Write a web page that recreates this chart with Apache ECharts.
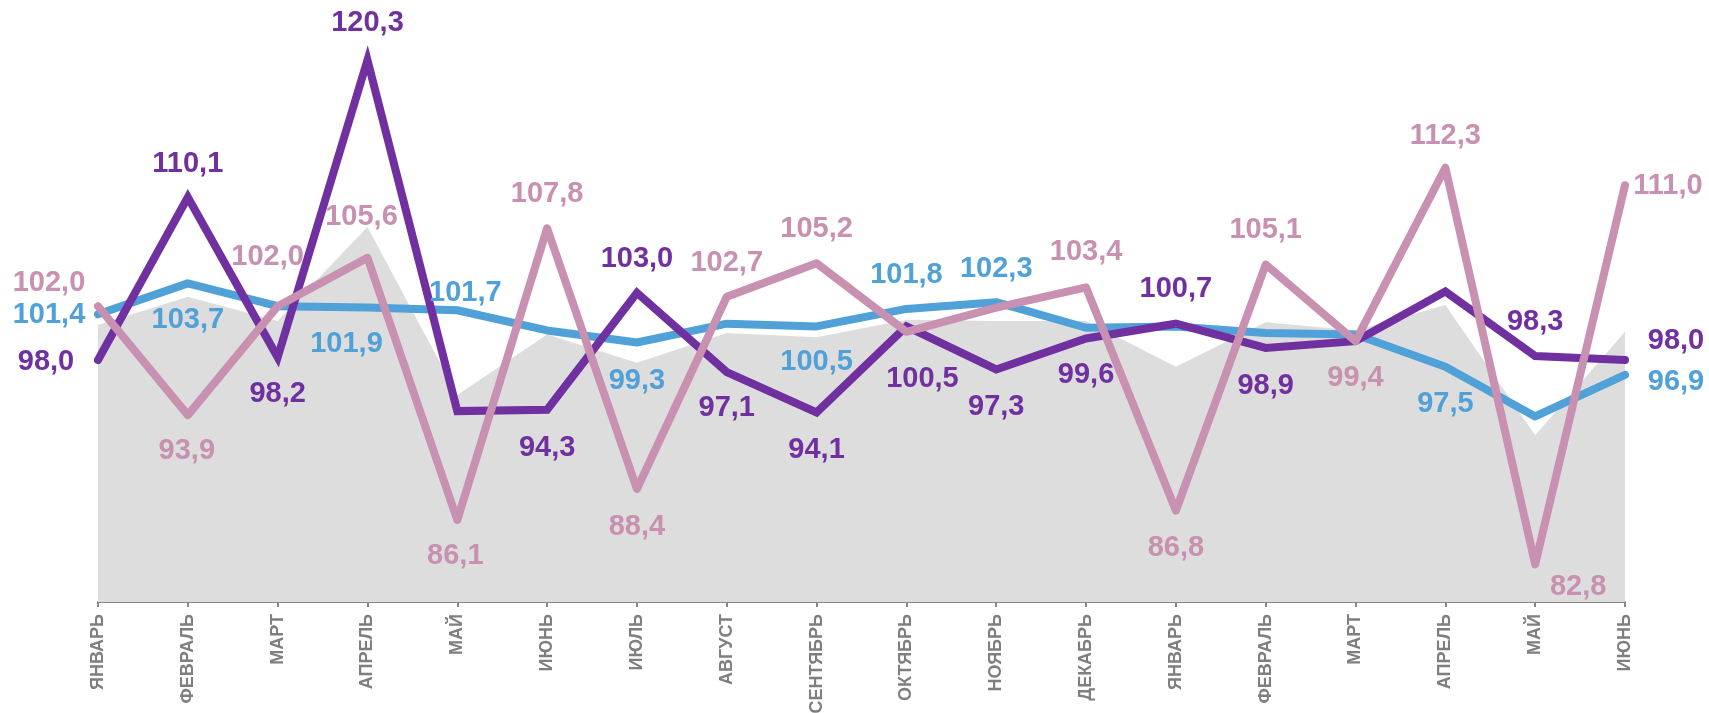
<!DOCTYPE html>
<html>
<head>
<meta charset="utf-8">
<script src="https://cdn.jsdelivr.net/npm/echarts@6/dist/echarts.min.js"></script>
<style>
  html, body { margin: 0; padding: 0; background: #fff; }
  #chart { width: 1709px; height: 713px; }
</style>
</head>
<body>
<div id="chart"></div>
<script>
var months = ['ЯНВАРЬ', 'ФЕВРАЛЬ', 'МАРТ', 'АПРЕЛЬ', 'МАЙ', 'ИЮНЬ', 'ИЮЛЬ', 'АВГУСТ', 'СЕНТЯБРЬ',
  'ОКТЯБРЬ', 'НОЯБРЬ', 'ДЕКАБРЬ', 'ЯНВАРЬ', 'ФЕВРАЛЬ', 'МАРТ', 'АПРЕЛЬ', 'МАЙ', 'ИЮНЬ'];

var purpleValues = [98.0, 110.1, 98.2, 120.3, 94.2, 94.3, 103.0, 97.1, 94.1, 100.5, 97.3, 99.6, 100.7, 98.9, 99.4, 103.1, 98.3, 98.0];
var pinkValues = [102.0, 93.9, 102.0, 105.6, 86.1, 107.8, 88.4, 102.7, 105.2, 100.1, 101.9, 103.4, 86.8, 105.1, 99.4, 112.3, 82.8, 111.0];
var blueValues = [101.4, 103.7, 102.0, 101.9, 101.7, 100.2, 99.3, 100.7, 100.5, 101.8, 102.3, 100.4, 100.5, 100.0, 99.9, 97.5, 93.8, 96.9];
var grayValues = [100.6, 102.7, 100.9, 107.9, 95.4, 99.9, 97.8, 100.0, 99.7, 101.0, 100.9, 100.9, 97.5, 100.8, 100.2, 102.1, 92.4, 100.1];

// label placement (offset from point), null = no label
var purpleLabels = [[-52, 2], [0, -33], [0, 37], [0, -37], null, [0, 38], [0, -34], [0, 36], [0, 38], [16, 53],
  [0, 38], [0, 37], [0, -35], [0, 38], null, null, [0, -34], [51, -19]];
var pinkLabels = [[-49, -23], [-1, 36], [-10, -49], [-6, -41], [-2, 36], [0, -34], [0, 38], [0, -34], [0, -34], null,
  null, [0, -35], [0, 37], [0, -35], [0, 37], [0, -32], [43, 23], [43, 1]];
var blueLabels = [[-49, 1], [0, 37], null, [-21, 36], [8, -17], null, [0, 38], null, [0, 36], [0, -34],
  [0, -33], null, null, null, null, [0, 37], null, [51, 7]];

function withLabels(values, labels) {
  return values.map(function (v, i) {
    var l = labels[i];
    return { value: v, label: l ? { show: true, offset: l } : { show: false } };
  });
}

function fmt(p) {
  return p.value.toFixed(1).replace('.', ',');
}

function lineSeries(name, values, labels, color, join) {
  return {
    name: name,
    type: 'line',
    data: withLabels(values, labels),
    symbol: 'circle',
    symbolSize: 1,
    itemStyle: { color: color },
    lineStyle: { color: color, width: 8, join: join, cap: 'round' },
    label: {
      show: true,
      position: 'inside',
      formatter: fmt,
      color: color,
      fontFamily: 'Liberation Sans',
      fontSize: 29,
      fontWeight: 'bold'
    },
    emphasis: { disabled: true }
  };
}

var chart = echarts.init(document.getElementById('chart'));
var option = {
  animation: false,
  backgroundColor: '#ffffff',
  grid: { left: 98, right: 84, top: -3, bottom: 111, outerBoundsMode: 'none' },
  xAxis: {
    type: 'category',
    data: months,
    boundaryGap: false,
    axisLine: { lineStyle: { color: '#888888', width: 2 } },
    axisTick: { show: true, length: 5, interval: 0, lineStyle: { color: '#888888', width: 2 } },
    axisLabel: {
      interval: 0,
      rotate: 90,
      margin: 12,
      color: '#7f7f7f',
      fontFamily: 'Liberation Sans',
      fontSize: 18,
      fontWeight: 'bold'
    }
  },
  yAxis: { type: 'value', min: 80, max: 125, show: false },
  series: [
    {
      name: 'фон',
      type: 'line',
      data: grayValues,
      symbol: 'none',
      lineStyle: { width: 0 },
      areaStyle: { color: '#dddddd', opacity: 1 },
      silent: true
    },
    lineSeries('blue', blueValues, blueLabels, '#4fa1d8', 'round'),
    lineSeries('purple', purpleValues, purpleLabels, '#7030a0', 'miter'),
    lineSeries('pink', pinkValues, pinkLabels, '#c890b1', 'round')
  ]
};
chart.setOption(option);
</script>
</body>
</html>
